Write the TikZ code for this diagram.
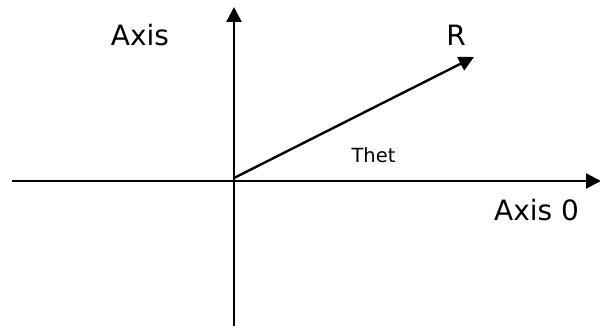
\documentclass[tikz,border=0pt]{standalone}
\usepackage{fontspec}
\setmainfont{DejaVu Sans}
\usetikzlibrary{arrows.meta}
\begin{document}
\begin{tikzpicture}[x=1pt,y=-1pt,
  arr/.style={line width=2.4pt,-{Triangle[length=15pt,width=15pt]}},
  big/.style={font=\fontsize{28}{32}\selectfont,inner sep=0pt,anchor=base},
  small/.style={font=\fontsize{19.5}{22}\selectfont,inner sep=0pt,anchor=base}]
\useasboundingbox (0,0) rectangle (600,329);
\coordinate (xl) at (12,181);
\coordinate (xr) at (601,181);
\coordinate (yb) at (234,326);
\coordinate (yt) at (234,7);
\coordinate (o) at (234,178);
\coordinate (r) at (474,57);
\draw[arr] (xl) -- (xr);
\draw[arr] (yb) -- (yt);
\draw[arr] (o) -- (r);
\node[big] (axis) at (140,46) {Axis};
\node[big] (rl) at (456,46) {R};
\node[small] (thet) at (373.5,162) {Thet};
\node[big] (axis0) at (536.5,220) {Axis 0};
\end{tikzpicture}
\end{document}
